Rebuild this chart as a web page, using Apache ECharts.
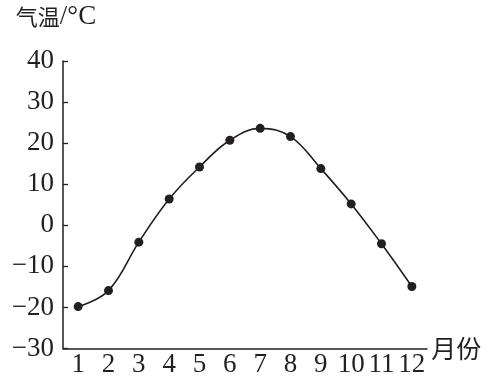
<!DOCTYPE html>
<html>
<head>
<meta charset="utf-8">
<script src="https://cdn.jsdelivr.net/npm/echarts@6/dist/echarts.min.js"></script>
<style>
html,body{margin:0;padding:0;background:#fff;}
#c{width:493px;height:383px;}
</style>
</head>
<body>
<div id="c"></div>
<script>
const months = ['1','2','3','4','5','6','7','8','9','10','11','12'];
const temps = [-19.8, -15.9, -4.1, 6.4, 14.2, 20.7, 23.6, 21.6, 13.8, 5.2, -4.5, -14.9];
const yTicks = { min: -30, max: 40, interval: 10 };
const xName = '月份';
const yNameCJK = '气温';
const yNameUnit = '/°C';

const ff = '"Liberation Serif", "Noto Sans CJK SC", serif';
const ink = '#231f20';

const chart = echarts.init(document.getElementById('c'), null, {renderer: 'canvas'});
chart.setOption({
  animation: false,
  backgroundColor: '#fff',
  grid: { left: 63, right: 66, top: 61, bottom: 34.5, containLabel: false },
  xAxis: {
    type: 'category',
    data: months,
    boundaryGap: true,
    name: xName,
    nameLocation: 'end',
    nameGap: 3,
    nameTextStyle: { fontFamily: '"Noto Sans CJK SC", sans-serif', fontSize: 25, color: ink, padding: [26, 0, 0, 0] },
    axisLine: { onZero: false, lineStyle: { color: ink, width: 1.5 } },
    axisTick: { inside: true, alignWithLabel: true, length: 5, lineStyle: { color: ink, width: 1.3 } },
    axisLabel: { fontFamily: ff, fontSize: 27, color: ink, margin: 3, interval: 0 },
    splitLine: { show: false }
  },
  yAxis: {
    type: 'value',
    min: yTicks.min,
    max: yTicks.max,
    interval: yTicks.interval,
    name: '{c|' + yNameCJK + '}{s|' + yNameUnit + '}',
    nameLocation: 'end',
    nameGap: 31,
    nameTextStyle: {
      color: ink, padding: [0, 14, 0, 0],
      rich: {
        c: { fontFamily: '"Noto Sans CJK SC", sans-serif', fontSize: 22, color: ink },
        s: { fontFamily: ff, fontSize: 27, color: ink }
      }
    },
    axisLine: { show: true, lineStyle: { color: ink, width: 1.5 } },
    axisTick: { show: true, inside: true, length: 5, lineStyle: { color: ink, width: 1.3 } },
    axisLabel: {
      fontFamily: ff, fontSize: 27, color: ink, margin: 9,
      formatter: v => (v < 0 ? '\u2212' + Math.abs(v) : String(v))
    },
    splitLine: { show: false }
  },
  series: [{
    type: 'line',
    data: temps,
    smooth: 0.4,
    symbol: 'circle',
    symbolSize: 9,
    itemStyle: { color: ink },
    lineStyle: { color: ink, width: 1.6 }
  }]
});
</script>
</body>
</html>
